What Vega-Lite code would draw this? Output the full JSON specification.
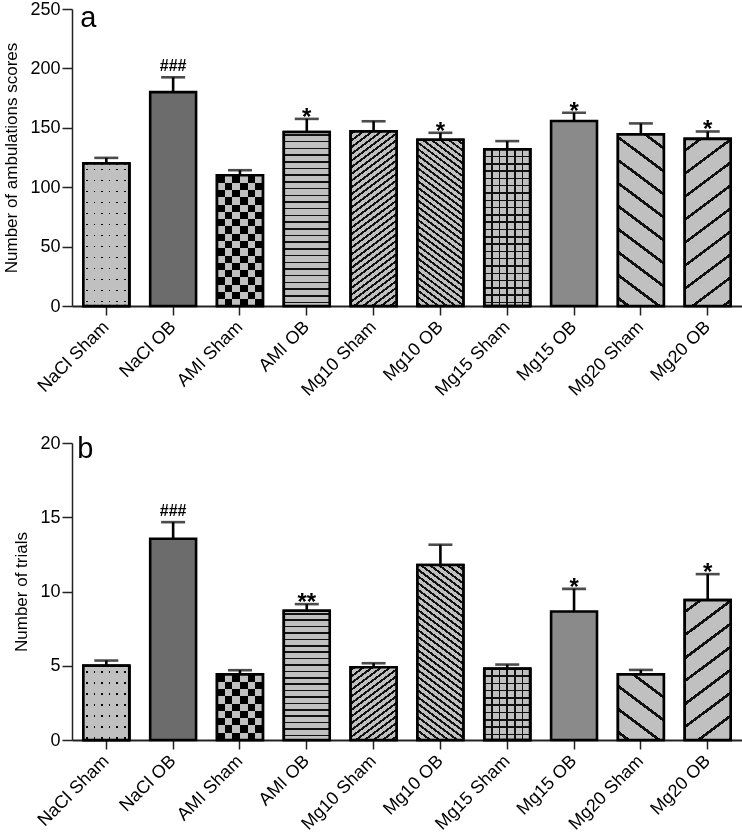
{
  "$schema": "https://vega.github.io/schema/vega-lite/v6.json",
  "background": "white",
  "padding": {"top": 0, "left": 2, "right": 0, "bottom": 0},
  "spacing": 35,
  "datasets": {
    "a": [
      {"group": "NaCl Sham", "mean": 120, "upper": 124.7, "sig": ""},
      {"group": "NaCl OB", "mean": 180, "upper": 192.5, "sig": "###"},
      {"group": "AMI Sham", "mean": 110, "upper": 114.3, "sig": ""},
      {"group": "AMI OB", "mean": 146.5, "upper": 157.5, "sig": "*"},
      {"group": "Mg10 Sham", "mean": 147, "upper": 155.5, "sig": ""},
      {"group": "Mg10 OB", "mean": 140, "upper": 145.8, "sig": "*"},
      {"group": "Mg15 Sham", "mean": 132, "upper": 138.8, "sig": ""},
      {"group": "Mg15 OB", "mean": 155.7, "upper": 162.7, "sig": "*"},
      {"group": "Mg20 Sham", "mean": 144.5, "upper": 153.7, "sig": ""},
      {"group": "Mg20 OB", "mean": 140.7, "upper": 146.9, "sig": "*"}
    ],
    "b": [
      {"group": "NaCl Sham", "mean": 5.0, "upper": 5.35, "sig": ""},
      {"group": "NaCl OB", "mean": 13.55, "upper": 14.67, "sig": "###"},
      {"group": "AMI Sham", "mean": 4.42, "upper": 4.7, "sig": ""},
      {"group": "AMI OB", "mean": 8.7, "upper": 9.15, "sig": "**"},
      {"group": "Mg10 Sham", "mean": 4.9, "upper": 5.17, "sig": ""},
      {"group": "Mg10 OB", "mean": 11.78, "upper": 13.15, "sig": ""},
      {"group": "Mg15 Sham", "mean": 4.8, "upper": 5.08, "sig": ""},
      {"group": "Mg15 OB", "mean": 8.65, "upper": 10.18, "sig": "*"},
      {"group": "Mg20 Sham", "mean": 4.42, "upper": 4.72, "sig": ""},
      {"group": "Mg20 OB", "mean": 9.42, "upper": 11.17, "sig": "*"}
    ],
    "labA": [{"panel": "a"}],
    "labB": [{"panel": "b"}]
  },
  "vconcat": [
    {
      "width": 670,
      "height": 297,
      "data": {"name": "a"},
      "encoding": {
        "x": {
          "field": "group", "type": "nominal", "sort": null, "title": null,
          "scale": {"paddingInner": 0.313, "paddingOuter": 0.17}
        }
      },
      "layer": [
        {
          "mark": {"type": "bar", "stroke": "black", "strokeWidth": 2.6},
          "encoding": {
            "y": {
              "field": "mean", "type": "quantitative",
              "title": "Number of ambulations scores",
              "scale": {"domain": [0, 250], "nice": false},
              "axis": {"values": [0, 50, 100, 150, 200, 250], "titlePadding": 9}
            },
            "fill": {"field": "group", "type": "nominal", "sort": null, "legend": null,
              "scale": {"range": ["#b2b2b2", "#6c6c6c", "#606060", "#909090", "#868686", "#7e7e7e", "#8c8c8c", "#8a8a8a", "#a0a0a0", "#a0a0a0"]}}
          }
        },
        {
          "transform": [{"filter": "datum.group == 'NaCl Sham'"}],
          "mark": {"type": "bar", "stroke": "black", "strokeWidth": 2.6,
            "fill": {"gradient": "linear", "x1": 0, "y1": 0, "x2": 0, "y2": 1, "stops": [
              {"offset": 0, "color": "#c0c0c0"},
              {"offset": 0.0365, "color": "#c0c0c0"}, {"offset": 0.0365, "color": "#000"}, {"offset": 0.0477, "color": "#000"}, {"offset": 0.0477, "color": "#c0c0c0"},
              {"offset": 0.1136, "color": "#c0c0c0"}, {"offset": 0.1136, "color": "#000"}, {"offset": 0.1248, "color": "#000"}, {"offset": 0.1248, "color": "#c0c0c0"},
              {"offset": 0.1908, "color": "#c0c0c0"}, {"offset": 0.1908, "color": "#000"}, {"offset": 0.2020, "color": "#000"}, {"offset": 0.2020, "color": "#c0c0c0"},
              {"offset": 0.2679, "color": "#c0c0c0"}, {"offset": 0.2679, "color": "#000"}, {"offset": 0.2791, "color": "#000"}, {"offset": 0.2791, "color": "#c0c0c0"},
              {"offset": 0.3450, "color": "#c0c0c0"}, {"offset": 0.3450, "color": "#000"}, {"offset": 0.3562, "color": "#000"}, {"offset": 0.3562, "color": "#c0c0c0"},
              {"offset": 0.4222, "color": "#c0c0c0"}, {"offset": 0.4222, "color": "#000"}, {"offset": 0.4334, "color": "#000"}, {"offset": 0.4334, "color": "#c0c0c0"},
              {"offset": 0.4993, "color": "#c0c0c0"}, {"offset": 0.4993, "color": "#000"}, {"offset": 0.5105, "color": "#000"}, {"offset": 0.5105, "color": "#c0c0c0"},
              {"offset": 0.5764, "color": "#c0c0c0"}, {"offset": 0.5764, "color": "#000"}, {"offset": 0.5876, "color": "#000"}, {"offset": 0.5876, "color": "#c0c0c0"},
              {"offset": 0.6536, "color": "#c0c0c0"}, {"offset": 0.6536, "color": "#000"}, {"offset": 0.6648, "color": "#000"}, {"offset": 0.6648, "color": "#c0c0c0"},
              {"offset": 0.7307, "color": "#c0c0c0"}, {"offset": 0.7307, "color": "#000"}, {"offset": 0.7419, "color": "#000"}, {"offset": 0.7419, "color": "#c0c0c0"},
              {"offset": 0.8079, "color": "#c0c0c0"}, {"offset": 0.8079, "color": "#000"}, {"offset": 0.8191, "color": "#000"}, {"offset": 0.8191, "color": "#c0c0c0"},
              {"offset": 0.8850, "color": "#c0c0c0"}, {"offset": 0.8850, "color": "#000"}, {"offset": 0.8962, "color": "#000"}, {"offset": 0.8962, "color": "#c0c0c0"},
              {"offset": 0.9621, "color": "#c0c0c0"}, {"offset": 0.9621, "color": "#000"}, {"offset": 0.9733, "color": "#000"}, {"offset": 0.9733, "color": "#c0c0c0"},
              {"offset": 1, "color": "#c0c0c0"}
            ]}},
          "encoding": {"y": {"field": "mean", "type": "quantitative", "title": "Number of ambulations scores"}}
        },
        {
          "transform": [{"filter": "datum.group == 'NaCl Sham'"}],
          "mark": {"type": "bar", "stroke": "black", "strokeWidth": 2.6,
            "fill": {"gradient": "linear", "x1": 0, "y1": 0, "x2": 1, "y2": 0, "stops": [
              {"offset": 0, "color": "#c0c0c0"},
              {"offset": 0.0566, "color": "#c0c0c0"}, {"offset": 0.0566, "color": "rgba(192,192,192,0)"}, {"offset": 0.0914, "color": "rgba(192,192,192,0)"}, {"offset": 0.0914, "color": "#c0c0c0"},
              {"offset": 0.2226, "color": "#c0c0c0"}, {"offset": 0.2226, "color": "rgba(192,192,192,0)"}, {"offset": 0.2574, "color": "rgba(192,192,192,0)"}, {"offset": 0.2574, "color": "#c0c0c0"},
              {"offset": 0.3876, "color": "#c0c0c0"}, {"offset": 0.3876, "color": "rgba(192,192,192,0)"}, {"offset": 0.4224, "color": "rgba(192,192,192,0)"}, {"offset": 0.4224, "color": "#c0c0c0"},
              {"offset": 0.5536, "color": "#c0c0c0"}, {"offset": 0.5536, "color": "rgba(192,192,192,0)"}, {"offset": 0.5884, "color": "rgba(192,192,192,0)"}, {"offset": 0.5884, "color": "#c0c0c0"},
              {"offset": 0.7186, "color": "#c0c0c0"}, {"offset": 0.7186, "color": "rgba(192,192,192,0)"}, {"offset": 0.7534, "color": "rgba(192,192,192,0)"}, {"offset": 0.7534, "color": "#c0c0c0"},
              {"offset": 0.8846, "color": "#c0c0c0"}, {"offset": 0.8846, "color": "rgba(192,192,192,0)"}, {"offset": 0.9194, "color": "rgba(192,192,192,0)"}, {"offset": 0.9194, "color": "#c0c0c0"},
              {"offset": 1, "color": "#c0c0c0"}
            ]}},
          "encoding": {"y": {"field": "mean", "type": "quantitative", "title": "Number of ambulations scores"}}
        },
        {
          "transform": [{"filter": "datum.group == 'AMI Sham'"}],
          "mark": {"type": "bar", "strokeWidth": 0,
            "fill": {"gradient": "linear", "x1": 0, "y1": 0, "x2": 0, "y2": 1, "stops": [
              {"offset": 0, "color": "#000"},
              {"offset": 0.0559, "color": "#000"}, {"offset": 0.0559, "color": "#c0c0c0"},
              {"offset": 0.1117, "color": "#c0c0c0"}, {"offset": 0.1117, "color": "#000"},
              {"offset": 0.1676, "color": "#000"}, {"offset": 0.1676, "color": "#c0c0c0"},
              {"offset": 0.2234, "color": "#c0c0c0"}, {"offset": 0.2234, "color": "#000"},
              {"offset": 0.2793, "color": "#000"}, {"offset": 0.2793, "color": "#c0c0c0"},
              {"offset": 0.3351, "color": "#c0c0c0"}, {"offset": 0.3351, "color": "#000"},
              {"offset": 0.3910, "color": "#000"}, {"offset": 0.3910, "color": "#c0c0c0"},
              {"offset": 0.4468, "color": "#c0c0c0"}, {"offset": 0.4468, "color": "#000"},
              {"offset": 0.5027, "color": "#000"}, {"offset": 0.5027, "color": "#c0c0c0"},
              {"offset": 0.5585, "color": "#c0c0c0"}, {"offset": 0.5585, "color": "#000"},
              {"offset": 0.6144, "color": "#000"}, {"offset": 0.6144, "color": "#c0c0c0"},
              {"offset": 0.6702, "color": "#c0c0c0"}, {"offset": 0.6702, "color": "#000"},
              {"offset": 0.7261, "color": "#000"}, {"offset": 0.7261, "color": "#c0c0c0"},
              {"offset": 0.7819, "color": "#c0c0c0"}, {"offset": 0.7819, "color": "#000"},
              {"offset": 0.8378, "color": "#000"}, {"offset": 0.8378, "color": "#c0c0c0"},
              {"offset": 0.8936, "color": "#c0c0c0"}, {"offset": 0.8936, "color": "#000"},
              {"offset": 0.9495, "color": "#000"}, {"offset": 0.9495, "color": "#c0c0c0"},
              {"offset": 1, "color": "#c0c0c0"}
            ]}},
          "encoding": {"y": {"field": "mean", "type": "quantitative", "title": "Number of ambulations scores"}}
        },
        {
          "transform": [{"filter": "datum.group == 'AMI Sham'"}],
          "mark": {"type": "bar", "strokeWidth": 0, "blend": "difference",
            "fill": {"gradient": "linear", "x1": 0, "y1": 0, "x2": 1, "y2": 0, "stops": [
              {"offset": 0, "color": "#000"},
              {"offset": 0.1667, "color": "#000"}, {"offset": 0.1667, "color": "#c0c0c0"},
              {"offset": 0.3333, "color": "#c0c0c0"}, {"offset": 0.3333, "color": "#000"},
              {"offset": 0.5, "color": "#000"}, {"offset": 0.5, "color": "#c0c0c0"},
              {"offset": 0.6667, "color": "#c0c0c0"}, {"offset": 0.6667, "color": "#000"},
              {"offset": 0.8333, "color": "#000"}, {"offset": 0.8333, "color": "#c0c0c0"},
              {"offset": 1, "color": "#c0c0c0"}
            ]}},
          "encoding": {"y": {"field": "mean", "type": "quantitative", "title": "Number of ambulations scores"}}
        },
        {
          "transform": [{"filter": "datum.group == 'AMI Sham'"}],
          "mark": {"type": "bar", "stroke": "black", "strokeWidth": 2.6, "fillOpacity": 0},
          "encoding": {"y": {"field": "mean", "type": "quantitative", "title": "Number of ambulations scores"}}
        },
        {
          "transform": [{"filter": "datum.group == 'AMI OB'"}],
          "mark": {"type": "bar", "stroke": "black", "strokeWidth": 2.6,
            "fill": {"gradient": "linear", "x1": 0, "y1": 0, "x2": 0, "y2": 1, "stops": [
              {"offset": 0, "color": "#c0c0c0"},
              {"offset": 0.0129, "color": "#c0c0c0"}, {"offset": 0.0129, "color": "#111"}, {"offset": 0.0215, "color": "#111"}, {"offset": 0.0215, "color": "#c0c0c0"},
              {"offset": 0.0515, "color": "#c0c0c0"}, {"offset": 0.0515, "color": "#111"}, {"offset": 0.0601, "color": "#111"}, {"offset": 0.0601, "color": "#c0c0c0"},
              {"offset": 0.0900, "color": "#c0c0c0"}, {"offset": 0.0900, "color": "#111"}, {"offset": 0.0986, "color": "#111"}, {"offset": 0.0986, "color": "#c0c0c0"},
              {"offset": 0.1285, "color": "#c0c0c0"}, {"offset": 0.1285, "color": "#111"}, {"offset": 0.1371, "color": "#111"}, {"offset": 0.1371, "color": "#c0c0c0"},
              {"offset": 0.1670, "color": "#c0c0c0"}, {"offset": 0.1670, "color": "#111"}, {"offset": 0.1756, "color": "#111"}, {"offset": 0.1756, "color": "#c0c0c0"},
              {"offset": 0.2055, "color": "#c0c0c0"}, {"offset": 0.2055, "color": "#111"}, {"offset": 0.2141, "color": "#111"}, {"offset": 0.2141, "color": "#c0c0c0"},
              {"offset": 0.2440, "color": "#c0c0c0"}, {"offset": 0.2440, "color": "#111"}, {"offset": 0.2526, "color": "#111"}, {"offset": 0.2526, "color": "#c0c0c0"},
              {"offset": 0.2825, "color": "#c0c0c0"}, {"offset": 0.2825, "color": "#111"}, {"offset": 0.2911, "color": "#111"}, {"offset": 0.2911, "color": "#c0c0c0"},
              {"offset": 0.3210, "color": "#c0c0c0"}, {"offset": 0.3210, "color": "#111"}, {"offset": 0.3296, "color": "#111"}, {"offset": 0.3296, "color": "#c0c0c0"},
              {"offset": 0.3595, "color": "#c0c0c0"}, {"offset": 0.3595, "color": "#111"}, {"offset": 0.3681, "color": "#111"}, {"offset": 0.3681, "color": "#c0c0c0"},
              {"offset": 0.3980, "color": "#c0c0c0"}, {"offset": 0.3980, "color": "#111"}, {"offset": 0.4066, "color": "#111"}, {"offset": 0.4066, "color": "#c0c0c0"},
              {"offset": 0.4365, "color": "#c0c0c0"}, {"offset": 0.4365, "color": "#111"}, {"offset": 0.4451, "color": "#111"}, {"offset": 0.4451, "color": "#c0c0c0"},
              {"offset": 0.4750, "color": "#c0c0c0"}, {"offset": 0.4750, "color": "#111"}, {"offset": 0.4836, "color": "#111"}, {"offset": 0.4836, "color": "#c0c0c0"},
              {"offset": 0.5135, "color": "#c0c0c0"}, {"offset": 0.5135, "color": "#111"}, {"offset": 0.5221, "color": "#111"}, {"offset": 0.5221, "color": "#c0c0c0"},
              {"offset": 0.5520, "color": "#c0c0c0"}, {"offset": 0.5520, "color": "#111"}, {"offset": 0.5606, "color": "#111"}, {"offset": 0.5606, "color": "#c0c0c0"},
              {"offset": 0.5905, "color": "#c0c0c0"}, {"offset": 0.5905, "color": "#111"}, {"offset": 0.5991, "color": "#111"}, {"offset": 0.5991, "color": "#c0c0c0"},
              {"offset": 0.6290, "color": "#c0c0c0"}, {"offset": 0.6290, "color": "#111"}, {"offset": 0.6376, "color": "#111"}, {"offset": 0.6376, "color": "#c0c0c0"},
              {"offset": 0.6675, "color": "#c0c0c0"}, {"offset": 0.6675, "color": "#111"}, {"offset": 0.6761, "color": "#111"}, {"offset": 0.6761, "color": "#c0c0c0"},
              {"offset": 0.7061, "color": "#c0c0c0"}, {"offset": 0.7061, "color": "#111"}, {"offset": 0.7147, "color": "#111"}, {"offset": 0.7147, "color": "#c0c0c0"},
              {"offset": 0.7446, "color": "#c0c0c0"}, {"offset": 0.7446, "color": "#111"}, {"offset": 0.7532, "color": "#111"}, {"offset": 0.7532, "color": "#c0c0c0"},
              {"offset": 0.7831, "color": "#c0c0c0"}, {"offset": 0.7831, "color": "#111"}, {"offset": 0.7917, "color": "#111"}, {"offset": 0.7917, "color": "#c0c0c0"},
              {"offset": 0.8216, "color": "#c0c0c0"}, {"offset": 0.8216, "color": "#111"}, {"offset": 0.8302, "color": "#111"}, {"offset": 0.8302, "color": "#c0c0c0"},
              {"offset": 0.8601, "color": "#c0c0c0"}, {"offset": 0.8601, "color": "#111"}, {"offset": 0.8687, "color": "#111"}, {"offset": 0.8687, "color": "#c0c0c0"},
              {"offset": 0.8986, "color": "#c0c0c0"}, {"offset": 0.8986, "color": "#111"}, {"offset": 0.9072, "color": "#111"}, {"offset": 0.9072, "color": "#c0c0c0"},
              {"offset": 0.9371, "color": "#c0c0c0"}, {"offset": 0.9371, "color": "#111"}, {"offset": 0.9457, "color": "#111"}, {"offset": 0.9457, "color": "#c0c0c0"},
              {"offset": 0.9756, "color": "#c0c0c0"}, {"offset": 0.9756, "color": "#111"}, {"offset": 0.9842, "color": "#111"}, {"offset": 0.9842, "color": "#c0c0c0"},
              {"offset": 1, "color": "#c0c0c0"}
            ]}},
          "encoding": {"y": {"field": "mean", "type": "quantitative", "title": "Number of ambulations scores"}}
        },
        {
          "transform": [{"filter": "datum.group == 'Mg10 Sham'"}],
          "mark": {"type": "bar", "stroke": "black", "strokeWidth": 2.6,
            "fill": {"gradient": "linear", "x1": 0, "y1": 0, "x2": 0.227, "y2": 1.1523, "stops": [
              {"offset": 0, "color": "#c0c0c0"},
              {"offset": 0.0084, "color": "#c0c0c0"}, {"offset": 0.0084, "color": "#111"}, {"offset": 0.0204, "color": "#111"}, {"offset": 0.0204, "color": "#c0c0c0"},
              {"offset": 0.0404, "color": "#c0c0c0"}, {"offset": 0.0404, "color": "#111"}, {"offset": 0.0524, "color": "#111"}, {"offset": 0.0524, "color": "#c0c0c0"},
              {"offset": 0.0725, "color": "#c0c0c0"}, {"offset": 0.0725, "color": "#111"}, {"offset": 0.0845, "color": "#111"}, {"offset": 0.0845, "color": "#c0c0c0"},
              {"offset": 0.1045, "color": "#c0c0c0"}, {"offset": 0.1045, "color": "#111"}, {"offset": 0.1165, "color": "#111"}, {"offset": 0.1165, "color": "#c0c0c0"},
              {"offset": 0.1366, "color": "#c0c0c0"}, {"offset": 0.1366, "color": "#111"}, {"offset": 0.1486, "color": "#111"}, {"offset": 0.1486, "color": "#c0c0c0"},
              {"offset": 0.1686, "color": "#c0c0c0"}, {"offset": 0.1686, "color": "#111"}, {"offset": 0.1806, "color": "#111"}, {"offset": 0.1806, "color": "#c0c0c0"},
              {"offset": 0.2007, "color": "#c0c0c0"}, {"offset": 0.2007, "color": "#111"}, {"offset": 0.2127, "color": "#111"}, {"offset": 0.2127, "color": "#c0c0c0"},
              {"offset": 0.2328, "color": "#c0c0c0"}, {"offset": 0.2328, "color": "#111"}, {"offset": 0.2448, "color": "#111"}, {"offset": 0.2448, "color": "#c0c0c0"},
              {"offset": 0.2648, "color": "#c0c0c0"}, {"offset": 0.2648, "color": "#111"}, {"offset": 0.2768, "color": "#111"}, {"offset": 0.2768, "color": "#c0c0c0"},
              {"offset": 0.2969, "color": "#c0c0c0"}, {"offset": 0.2969, "color": "#111"}, {"offset": 0.3089, "color": "#111"}, {"offset": 0.3089, "color": "#c0c0c0"},
              {"offset": 0.3289, "color": "#c0c0c0"}, {"offset": 0.3289, "color": "#111"}, {"offset": 0.3409, "color": "#111"}, {"offset": 0.3409, "color": "#c0c0c0"},
              {"offset": 0.3610, "color": "#c0c0c0"}, {"offset": 0.3610, "color": "#111"}, {"offset": 0.3730, "color": "#111"}, {"offset": 0.3730, "color": "#c0c0c0"},
              {"offset": 0.3930, "color": "#c0c0c0"}, {"offset": 0.3930, "color": "#111"}, {"offset": 0.4050, "color": "#111"}, {"offset": 0.4050, "color": "#c0c0c0"},
              {"offset": 0.4251, "color": "#c0c0c0"}, {"offset": 0.4251, "color": "#111"}, {"offset": 0.4371, "color": "#111"}, {"offset": 0.4371, "color": "#c0c0c0"},
              {"offset": 0.4572, "color": "#c0c0c0"}, {"offset": 0.4572, "color": "#111"}, {"offset": 0.4692, "color": "#111"}, {"offset": 0.4692, "color": "#c0c0c0"},
              {"offset": 0.4892, "color": "#c0c0c0"}, {"offset": 0.4892, "color": "#111"}, {"offset": 0.5012, "color": "#111"}, {"offset": 0.5012, "color": "#c0c0c0"},
              {"offset": 0.5213, "color": "#c0c0c0"}, {"offset": 0.5213, "color": "#111"}, {"offset": 0.5333, "color": "#111"}, {"offset": 0.5333, "color": "#c0c0c0"},
              {"offset": 0.5533, "color": "#c0c0c0"}, {"offset": 0.5533, "color": "#111"}, {"offset": 0.5653, "color": "#111"}, {"offset": 0.5653, "color": "#c0c0c0"},
              {"offset": 0.5854, "color": "#c0c0c0"}, {"offset": 0.5854, "color": "#111"}, {"offset": 0.5974, "color": "#111"}, {"offset": 0.5974, "color": "#c0c0c0"},
              {"offset": 0.6174, "color": "#c0c0c0"}, {"offset": 0.6174, "color": "#111"}, {"offset": 0.6294, "color": "#111"}, {"offset": 0.6294, "color": "#c0c0c0"},
              {"offset": 0.6495, "color": "#c0c0c0"}, {"offset": 0.6495, "color": "#111"}, {"offset": 0.6615, "color": "#111"}, {"offset": 0.6615, "color": "#c0c0c0"},
              {"offset": 0.6816, "color": "#c0c0c0"}, {"offset": 0.6816, "color": "#111"}, {"offset": 0.6936, "color": "#111"}, {"offset": 0.6936, "color": "#c0c0c0"},
              {"offset": 0.7136, "color": "#c0c0c0"}, {"offset": 0.7136, "color": "#111"}, {"offset": 0.7256, "color": "#111"}, {"offset": 0.7256, "color": "#c0c0c0"},
              {"offset": 0.7457, "color": "#c0c0c0"}, {"offset": 0.7457, "color": "#111"}, {"offset": 0.7577, "color": "#111"}, {"offset": 0.7577, "color": "#c0c0c0"},
              {"offset": 0.7777, "color": "#c0c0c0"}, {"offset": 0.7777, "color": "#111"}, {"offset": 0.7897, "color": "#111"}, {"offset": 0.7897, "color": "#c0c0c0"},
              {"offset": 0.8098, "color": "#c0c0c0"}, {"offset": 0.8098, "color": "#111"}, {"offset": 0.8218, "color": "#111"}, {"offset": 0.8218, "color": "#c0c0c0"},
              {"offset": 0.8418, "color": "#c0c0c0"}, {"offset": 0.8418, "color": "#111"}, {"offset": 0.8538, "color": "#111"}, {"offset": 0.8538, "color": "#c0c0c0"},
              {"offset": 0.8739, "color": "#c0c0c0"}, {"offset": 0.8739, "color": "#111"}, {"offset": 0.8859, "color": "#111"}, {"offset": 0.8859, "color": "#c0c0c0"},
              {"offset": 0.9059, "color": "#c0c0c0"}, {"offset": 0.9059, "color": "#111"}, {"offset": 0.9179, "color": "#111"}, {"offset": 0.9179, "color": "#c0c0c0"},
              {"offset": 0.9380, "color": "#c0c0c0"}, {"offset": 0.9380, "color": "#111"}, {"offset": 0.9500, "color": "#111"}, {"offset": 0.9500, "color": "#c0c0c0"},
              {"offset": 0.9701, "color": "#c0c0c0"}, {"offset": 0.9701, "color": "#111"}, {"offset": 0.9821, "color": "#111"}, {"offset": 0.9821, "color": "#c0c0c0"},
              {"offset": 1, "color": "#c0c0c0"}
            ]}},
          "encoding": {"y": {"field": "mean", "type": "quantitative", "title": "Number of ambulations scores"}}
        },
        {
          "transform": [{"filter": "datum.group == 'Mg10 OB'"}],
          "mark": {"type": "bar", "stroke": "black", "strokeWidth": 2.6,
            "fill": {"gradient": "linear", "x1": 0, "y1": 1, "x2": 0.2394, "y2": -0.1573, "stops": [
              {"offset": 0, "color": "#c0c0c0"},
              {"offset": 0.0084, "color": "#c0c0c0"}, {"offset": 0.0084, "color": "#111"}, {"offset": 0.0204, "color": "#111"}, {"offset": 0.0204, "color": "#c0c0c0"},
              {"offset": 0.0404, "color": "#c0c0c0"}, {"offset": 0.0404, "color": "#111"}, {"offset": 0.0524, "color": "#111"}, {"offset": 0.0524, "color": "#c0c0c0"},
              {"offset": 0.0725, "color": "#c0c0c0"}, {"offset": 0.0725, "color": "#111"}, {"offset": 0.0845, "color": "#111"}, {"offset": 0.0845, "color": "#c0c0c0"},
              {"offset": 0.1045, "color": "#c0c0c0"}, {"offset": 0.1045, "color": "#111"}, {"offset": 0.1165, "color": "#111"}, {"offset": 0.1165, "color": "#c0c0c0"},
              {"offset": 0.1366, "color": "#c0c0c0"}, {"offset": 0.1366, "color": "#111"}, {"offset": 0.1486, "color": "#111"}, {"offset": 0.1486, "color": "#c0c0c0"},
              {"offset": 0.1686, "color": "#c0c0c0"}, {"offset": 0.1686, "color": "#111"}, {"offset": 0.1806, "color": "#111"}, {"offset": 0.1806, "color": "#c0c0c0"},
              {"offset": 0.2007, "color": "#c0c0c0"}, {"offset": 0.2007, "color": "#111"}, {"offset": 0.2127, "color": "#111"}, {"offset": 0.2127, "color": "#c0c0c0"},
              {"offset": 0.2328, "color": "#c0c0c0"}, {"offset": 0.2328, "color": "#111"}, {"offset": 0.2448, "color": "#111"}, {"offset": 0.2448, "color": "#c0c0c0"},
              {"offset": 0.2648, "color": "#c0c0c0"}, {"offset": 0.2648, "color": "#111"}, {"offset": 0.2768, "color": "#111"}, {"offset": 0.2768, "color": "#c0c0c0"},
              {"offset": 0.2969, "color": "#c0c0c0"}, {"offset": 0.2969, "color": "#111"}, {"offset": 0.3089, "color": "#111"}, {"offset": 0.3089, "color": "#c0c0c0"},
              {"offset": 0.3289, "color": "#c0c0c0"}, {"offset": 0.3289, "color": "#111"}, {"offset": 0.3409, "color": "#111"}, {"offset": 0.3409, "color": "#c0c0c0"},
              {"offset": 0.3610, "color": "#c0c0c0"}, {"offset": 0.3610, "color": "#111"}, {"offset": 0.3730, "color": "#111"}, {"offset": 0.3730, "color": "#c0c0c0"},
              {"offset": 0.3930, "color": "#c0c0c0"}, {"offset": 0.3930, "color": "#111"}, {"offset": 0.4050, "color": "#111"}, {"offset": 0.4050, "color": "#c0c0c0"},
              {"offset": 0.4251, "color": "#c0c0c0"}, {"offset": 0.4251, "color": "#111"}, {"offset": 0.4371, "color": "#111"}, {"offset": 0.4371, "color": "#c0c0c0"},
              {"offset": 0.4572, "color": "#c0c0c0"}, {"offset": 0.4572, "color": "#111"}, {"offset": 0.4692, "color": "#111"}, {"offset": 0.4692, "color": "#c0c0c0"},
              {"offset": 0.4892, "color": "#c0c0c0"}, {"offset": 0.4892, "color": "#111"}, {"offset": 0.5012, "color": "#111"}, {"offset": 0.5012, "color": "#c0c0c0"},
              {"offset": 0.5213, "color": "#c0c0c0"}, {"offset": 0.5213, "color": "#111"}, {"offset": 0.5333, "color": "#111"}, {"offset": 0.5333, "color": "#c0c0c0"},
              {"offset": 0.5533, "color": "#c0c0c0"}, {"offset": 0.5533, "color": "#111"}, {"offset": 0.5653, "color": "#111"}, {"offset": 0.5653, "color": "#c0c0c0"},
              {"offset": 0.5854, "color": "#c0c0c0"}, {"offset": 0.5854, "color": "#111"}, {"offset": 0.5974, "color": "#111"}, {"offset": 0.5974, "color": "#c0c0c0"},
              {"offset": 0.6174, "color": "#c0c0c0"}, {"offset": 0.6174, "color": "#111"}, {"offset": 0.6294, "color": "#111"}, {"offset": 0.6294, "color": "#c0c0c0"},
              {"offset": 0.6495, "color": "#c0c0c0"}, {"offset": 0.6495, "color": "#111"}, {"offset": 0.6615, "color": "#111"}, {"offset": 0.6615, "color": "#c0c0c0"},
              {"offset": 0.6816, "color": "#c0c0c0"}, {"offset": 0.6816, "color": "#111"}, {"offset": 0.6936, "color": "#111"}, {"offset": 0.6936, "color": "#c0c0c0"},
              {"offset": 0.7136, "color": "#c0c0c0"}, {"offset": 0.7136, "color": "#111"}, {"offset": 0.7256, "color": "#111"}, {"offset": 0.7256, "color": "#c0c0c0"},
              {"offset": 0.7457, "color": "#c0c0c0"}, {"offset": 0.7457, "color": "#111"}, {"offset": 0.7577, "color": "#111"}, {"offset": 0.7577, "color": "#c0c0c0"},
              {"offset": 0.7777, "color": "#c0c0c0"}, {"offset": 0.7777, "color": "#111"}, {"offset": 0.7897, "color": "#111"}, {"offset": 0.7897, "color": "#c0c0c0"},
              {"offset": 0.8098, "color": "#c0c0c0"}, {"offset": 0.8098, "color": "#111"}, {"offset": 0.8218, "color": "#111"}, {"offset": 0.8218, "color": "#c0c0c0"},
              {"offset": 0.8418, "color": "#c0c0c0"}, {"offset": 0.8418, "color": "#111"}, {"offset": 0.8538, "color": "#111"}, {"offset": 0.8538, "color": "#c0c0c0"},
              {"offset": 0.8739, "color": "#c0c0c0"}, {"offset": 0.8739, "color": "#111"}, {"offset": 0.8859, "color": "#111"}, {"offset": 0.8859, "color": "#c0c0c0"},
              {"offset": 0.9059, "color": "#c0c0c0"}, {"offset": 0.9059, "color": "#111"}, {"offset": 0.9179, "color": "#111"}, {"offset": 0.9179, "color": "#c0c0c0"},
              {"offset": 0.9380, "color": "#c0c0c0"}, {"offset": 0.9380, "color": "#111"}, {"offset": 0.9500, "color": "#111"}, {"offset": 0.9500, "color": "#c0c0c0"},
              {"offset": 0.9701, "color": "#c0c0c0"}, {"offset": 0.9701, "color": "#111"}, {"offset": 0.9821, "color": "#111"}, {"offset": 0.9821, "color": "#c0c0c0"},
              {"offset": 1, "color": "#c0c0c0"}
            ]}},
          "encoding": {"y": {"field": "mean", "type": "quantitative", "title": "Number of ambulations scores"}}
        },
        {
          "transform": [{"filter": "datum.group == 'Mg15 Sham'"}],
          "mark": {"type": "bar", "stroke": "black", "strokeWidth": 2.6,
            "fill": {"gradient": "linear", "x1": 0, "y1": 0, "x2": 0, "y2": 1, "stops": [
              {"offset": 0, "color": "#c0c0c0"},
              {"offset": 0.0418, "color": "#c0c0c0"}, {"offset": 0.0418, "color": "#111"}, {"offset": 0.0514, "color": "#111"}, {"offset": 0.0514, "color": "#c0c0c0"},
              {"offset": 0.0883, "color": "#c0c0c0"}, {"offset": 0.0883, "color": "#111"}, {"offset": 0.0979, "color": "#111"}, {"offset": 0.0979, "color": "#c0c0c0"},
              {"offset": 0.1349, "color": "#c0c0c0"}, {"offset": 0.1349, "color": "#111"}, {"offset": 0.1445, "color": "#111"}, {"offset": 0.1445, "color": "#c0c0c0"},
              {"offset": 0.1814, "color": "#c0c0c0"}, {"offset": 0.1814, "color": "#111"}, {"offset": 0.1910, "color": "#111"}, {"offset": 0.1910, "color": "#c0c0c0"},
              {"offset": 0.2280, "color": "#c0c0c0"}, {"offset": 0.2280, "color": "#111"}, {"offset": 0.2376, "color": "#111"}, {"offset": 0.2376, "color": "#c0c0c0"},
              {"offset": 0.2745, "color": "#c0c0c0"}, {"offset": 0.2745, "color": "#111"}, {"offset": 0.2841, "color": "#111"}, {"offset": 0.2841, "color": "#c0c0c0"},
              {"offset": 0.3211, "color": "#c0c0c0"}, {"offset": 0.3211, "color": "#111"}, {"offset": 0.3307, "color": "#111"}, {"offset": 0.3307, "color": "#c0c0c0"},
              {"offset": 0.3676, "color": "#c0c0c0"}, {"offset": 0.3676, "color": "#111"}, {"offset": 0.3772, "color": "#111"}, {"offset": 0.3772, "color": "#c0c0c0"},
              {"offset": 0.4142, "color": "#c0c0c0"}, {"offset": 0.4142, "color": "#111"}, {"offset": 0.4238, "color": "#111"}, {"offset": 0.4238, "color": "#c0c0c0"},
              {"offset": 0.4608, "color": "#c0c0c0"}, {"offset": 0.4608, "color": "#111"}, {"offset": 0.4704, "color": "#111"}, {"offset": 0.4704, "color": "#c0c0c0"},
              {"offset": 0.5073, "color": "#c0c0c0"}, {"offset": 0.5073, "color": "#111"}, {"offset": 0.5169, "color": "#111"}, {"offset": 0.5169, "color": "#c0c0c0"},
              {"offset": 0.5539, "color": "#c0c0c0"}, {"offset": 0.5539, "color": "#111"}, {"offset": 0.5635, "color": "#111"}, {"offset": 0.5635, "color": "#c0c0c0"},
              {"offset": 0.6004, "color": "#c0c0c0"}, {"offset": 0.6004, "color": "#111"}, {"offset": 0.6100, "color": "#111"}, {"offset": 0.6100, "color": "#c0c0c0"},
              {"offset": 0.6470, "color": "#c0c0c0"}, {"offset": 0.6470, "color": "#111"}, {"offset": 0.6566, "color": "#111"}, {"offset": 0.6566, "color": "#c0c0c0"},
              {"offset": 0.6935, "color": "#c0c0c0"}, {"offset": 0.6935, "color": "#111"}, {"offset": 0.7031, "color": "#111"}, {"offset": 0.7031, "color": "#c0c0c0"},
              {"offset": 0.7401, "color": "#c0c0c0"}, {"offset": 0.7401, "color": "#111"}, {"offset": 0.7497, "color": "#111"}, {"offset": 0.7497, "color": "#c0c0c0"},
              {"offset": 0.7867, "color": "#c0c0c0"}, {"offset": 0.7867, "color": "#111"}, {"offset": 0.7963, "color": "#111"}, {"offset": 0.7963, "color": "#c0c0c0"},
              {"offset": 0.8332, "color": "#c0c0c0"}, {"offset": 0.8332, "color": "#111"}, {"offset": 0.8428, "color": "#111"}, {"offset": 0.8428, "color": "#c0c0c0"},
              {"offset": 0.8798, "color": "#c0c0c0"}, {"offset": 0.8798, "color": "#111"}, {"offset": 0.8894, "color": "#111"}, {"offset": 0.8894, "color": "#c0c0c0"},
              {"offset": 0.9263, "color": "#c0c0c0"}, {"offset": 0.9263, "color": "#111"}, {"offset": 0.9359, "color": "#111"}, {"offset": 0.9359, "color": "#c0c0c0"},
              {"offset": 0.9729, "color": "#c0c0c0"}, {"offset": 0.9729, "color": "#111"}, {"offset": 0.9825, "color": "#111"}, {"offset": 0.9825, "color": "#c0c0c0"},
              {"offset": 1, "color": "#c0c0c0"}
            ]}},
          "encoding": {"y": {"field": "mean", "type": "quantitative", "title": "Number of ambulations scores"}}
        },
        {
          "transform": [{"filter": "datum.group == 'Mg15 Sham'"}],
          "mark": {"type": "bar", "stroke": "black", "strokeWidth": 2.6,
            "fill": {"gradient": "linear", "x1": 0, "y1": 0, "x2": 1, "y2": 0, "stops": [
              {"offset": 0, "color": "rgba(0,0,0,0)"},
              {"offset": 0.1504, "color": "rgba(0,0,0,0)"}, {"offset": 0.1504, "color": "#111"}, {"offset": 0.1830, "color": "#111"}, {"offset": 0.1830, "color": "rgba(0,0,0,0)"},
              {"offset": 0.3170, "color": "rgba(0,0,0,0)"}, {"offset": 0.3170, "color": "#111"}, {"offset": 0.3496, "color": "#111"}, {"offset": 0.3496, "color": "rgba(0,0,0,0)"},
              {"offset": 0.4837, "color": "rgba(0,0,0,0)"}, {"offset": 0.4837, "color": "#111"}, {"offset": 0.5163, "color": "#111"}, {"offset": 0.5163, "color": "rgba(0,0,0,0)"},
              {"offset": 0.6504, "color": "rgba(0,0,0,0)"}, {"offset": 0.6504, "color": "#111"}, {"offset": 0.6830, "color": "#111"}, {"offset": 0.6830, "color": "rgba(0,0,0,0)"},
              {"offset": 0.8170, "color": "rgba(0,0,0,0)"}, {"offset": 0.8170, "color": "#111"}, {"offset": 0.8496, "color": "#111"}, {"offset": 0.8496, "color": "rgba(0,0,0,0)"},
              {"offset": 1, "color": "rgba(0,0,0,0)"}
            ]}},
          "encoding": {"y": {"field": "mean", "type": "quantitative", "title": "Number of ambulations scores"}}
        },
        {
          "transform": [{"filter": "datum.group == 'Mg20 Sham'"}],
          "mark": {"type": "bar", "stroke": "black", "strokeWidth": 2.6,
            "fill": {"gradient": "linear", "x1": 0, "y1": 1, "x2": 0.2312, "y2": -0.154, "stops": [
              {"offset": 0, "color": "#c0c0c0"},
              {"offset": 0.0306, "color": "#c0c0c0"}, {"offset": 0.0306, "color": "#111"}, {"offset": 0.0471, "color": "#111"}, {"offset": 0.0471, "color": "#c0c0c0"},
              {"offset": 0.1422, "color": "#c0c0c0"}, {"offset": 0.1422, "color": "#111"}, {"offset": 0.1587, "color": "#111"}, {"offset": 0.1587, "color": "#c0c0c0"},
              {"offset": 0.2538, "color": "#c0c0c0"}, {"offset": 0.2538, "color": "#111"}, {"offset": 0.2703, "color": "#111"}, {"offset": 0.2703, "color": "#c0c0c0"},
              {"offset": 0.3654, "color": "#c0c0c0"}, {"offset": 0.3654, "color": "#111"}, {"offset": 0.3819, "color": "#111"}, {"offset": 0.3819, "color": "#c0c0c0"},
              {"offset": 0.4770, "color": "#c0c0c0"}, {"offset": 0.4770, "color": "#111"}, {"offset": 0.4935, "color": "#111"}, {"offset": 0.4935, "color": "#c0c0c0"},
              {"offset": 0.5886, "color": "#c0c0c0"}, {"offset": 0.5886, "color": "#111"}, {"offset": 0.6051, "color": "#111"}, {"offset": 0.6051, "color": "#c0c0c0"},
              {"offset": 0.7002, "color": "#c0c0c0"}, {"offset": 0.7002, "color": "#111"}, {"offset": 0.7167, "color": "#111"}, {"offset": 0.7167, "color": "#c0c0c0"},
              {"offset": 0.8118, "color": "#c0c0c0"}, {"offset": 0.8118, "color": "#111"}, {"offset": 0.8283, "color": "#111"}, {"offset": 0.8283, "color": "#c0c0c0"},
              {"offset": 0.9234, "color": "#c0c0c0"}, {"offset": 0.9234, "color": "#111"}, {"offset": 0.9399, "color": "#111"}, {"offset": 0.9399, "color": "#c0c0c0"},
              {"offset": 1, "color": "#c0c0c0"}
            ]}},
          "encoding": {"y": {"field": "mean", "type": "quantitative", "title": "Number of ambulations scores"}}
        },
        {
          "transform": [{"filter": "datum.group == 'Mg20 OB'"}],
          "mark": {"type": "bar", "stroke": "black", "strokeWidth": 2.6,
            "fill": {"gradient": "linear", "x1": 0, "y1": 0, "x2": 0.2379, "y2": 1.1568, "stops": [
              {"offset": 0, "color": "#c0c0c0"},
              {"offset": 0.0511, "color": "#c0c0c0"}, {"offset": 0.0511, "color": "#111"}, {"offset": 0.0679, "color": "#111"}, {"offset": 0.0679, "color": "#c0c0c0"},
              {"offset": 0.1652, "color": "#c0c0c0"}, {"offset": 0.1652, "color": "#111"}, {"offset": 0.1820, "color": "#111"}, {"offset": 0.1820, "color": "#c0c0c0"},
              {"offset": 0.2793, "color": "#c0c0c0"}, {"offset": 0.2793, "color": "#111"}, {"offset": 0.2961, "color": "#111"}, {"offset": 0.2961, "color": "#c0c0c0"},
              {"offset": 0.3934, "color": "#c0c0c0"}, {"offset": 0.3934, "color": "#111"}, {"offset": 0.4102, "color": "#111"}, {"offset": 0.4102, "color": "#c0c0c0"},
              {"offset": 0.5075, "color": "#c0c0c0"}, {"offset": 0.5075, "color": "#111"}, {"offset": 0.5243, "color": "#111"}, {"offset": 0.5243, "color": "#c0c0c0"},
              {"offset": 0.6216, "color": "#c0c0c0"}, {"offset": 0.6216, "color": "#111"}, {"offset": 0.6384, "color": "#111"}, {"offset": 0.6384, "color": "#c0c0c0"},
              {"offset": 0.7356, "color": "#c0c0c0"}, {"offset": 0.7356, "color": "#111"}, {"offset": 0.7524, "color": "#111"}, {"offset": 0.7524, "color": "#c0c0c0"},
              {"offset": 0.8497, "color": "#c0c0c0"}, {"offset": 0.8497, "color": "#111"}, {"offset": 0.8665, "color": "#111"}, {"offset": 0.8665, "color": "#c0c0c0"},
              {"offset": 0.9638, "color": "#c0c0c0"}, {"offset": 0.9638, "color": "#111"}, {"offset": 0.9806, "color": "#111"}, {"offset": 0.9806, "color": "#c0c0c0"},
              {"offset": 1, "color": "#c0c0c0"}
            ]}},
          "encoding": {"y": {"field": "mean", "type": "quantitative", "title": "Number of ambulations scores"}}
        },
        {
          "mark": {"type": "rule", "strokeWidth": 2.6, "color": "black"},
          "encoding": {"y": {"field": "mean", "type": "quantitative"}, "y2": {"field": "upper"}}
        },
        {
          "mark": {"type": "tick", "orient": "horizontal", "size": 24, "thickness": 2.6, "color": "black"},
          "encoding": {"y": {"field": "upper", "type": "quantitative"}}
        },
        {
          "transform": [{"filter": "datum.sig == '###'"}],
          "mark": {"type": "text", "fontSize": 16, "fontWeight": "bold", "baseline": "alphabetic", "dy": -6, "font": "Liberation Sans", "color": "black"},
          "encoding": {"y": {"field": "upper", "type": "quantitative"}, "text": {"field": "sig"}}
        },
        {
          "transform": [{"filter": "datum.sig == '*' || datum.sig == '**'"}],
          "mark": {"type": "text", "fontSize": 24, "fontWeight": "bold", "baseline": "alphabetic", "dy": 6, "font": "Liberation Sans", "color": "black"},
          "encoding": {"y": {"field": "upper", "type": "quantitative"}, "text": {"field": "sig"}}
        },
        {
          "data": {"name": "labA"},
          "mark": {"type": "text", "fontSize": 29, "align": "left", "baseline": "alphabetic", "dx": -26, "dy": 18, "font": "Liberation Sans", "color": "black"},
          "encoding": {"x": {"datum": "NaCl Sham"}, "y": {"datum": 250}, "text": {"field": "panel"}}
        }
      ]
    },
    {
      "width": 670,
      "height": 297,
      "data": {"name": "b"},
      "encoding": {
        "x": {
          "field": "group", "type": "nominal", "sort": null, "title": null,
          "scale": {"paddingInner": 0.313, "paddingOuter": 0.17}
        }
      },
      "layer": [
        {
          "mark": {"type": "bar", "stroke": "black", "strokeWidth": 2.6},
          "encoding": {
            "y": {
              "field": "mean", "type": "quantitative",
              "title": "Number of trials",
              "scale": {"domain": [0, 20], "nice": false},
              "axis": {"values": [0, 5, 10, 15, 20], "titlePadding": 9}
            },
            "fill": {"field": "group", "type": "nominal", "sort": null, "legend": null,
              "scale": {"range": ["#b2b2b2", "#6c6c6c", "#606060", "#909090", "#868686", "#7e7e7e", "#8c8c8c", "#8a8a8a", "#a0a0a0", "#a0a0a0"]}}
          }
        },
        {
          "transform": [{"filter": "datum.group == 'NaCl Sham'"}],
          "mark": {"type": "bar", "stroke": "black", "strokeWidth": 2.6,
            "fill": {"gradient": "linear", "x1": 0, "y1": 0, "x2": 0, "y2": 1, "stops": [
              {"offset": 0, "color": "#c0c0c0"},
              {"offset": 0.0700, "color": "#c0c0c0"}, {"offset": 0.0700, "color": "#000"}, {"offset": 0.0916, "color": "#000"}, {"offset": 0.0916, "color": "#c0c0c0"},
              {"offset": 0.2182, "color": "#c0c0c0"}, {"offset": 0.2182, "color": "#000"}, {"offset": 0.2398, "color": "#000"}, {"offset": 0.2398, "color": "#c0c0c0"},
              {"offset": 0.3663, "color": "#c0c0c0"}, {"offset": 0.3663, "color": "#000"}, {"offset": 0.3879, "color": "#000"}, {"offset": 0.3879, "color": "#c0c0c0"},
              {"offset": 0.5145, "color": "#c0c0c0"}, {"offset": 0.5145, "color": "#000"}, {"offset": 0.5361, "color": "#000"}, {"offset": 0.5361, "color": "#c0c0c0"},
              {"offset": 0.6626, "color": "#c0c0c0"}, {"offset": 0.6626, "color": "#000"}, {"offset": 0.6842, "color": "#000"}, {"offset": 0.6842, "color": "#c0c0c0"},
              {"offset": 0.8107, "color": "#c0c0c0"}, {"offset": 0.8107, "color": "#000"}, {"offset": 0.8323, "color": "#000"}, {"offset": 0.8323, "color": "#c0c0c0"},
              {"offset": 0.9589, "color": "#c0c0c0"}, {"offset": 0.9589, "color": "#000"}, {"offset": 0.9805, "color": "#000"}, {"offset": 0.9805, "color": "#c0c0c0"},
              {"offset": 1, "color": "#c0c0c0"}
            ]}},
          "encoding": {"y": {"field": "mean", "type": "quantitative", "title": "Number of trials"}}
        },
        {
          "transform": [{"filter": "datum.group == 'NaCl Sham'"}],
          "mark": {"type": "bar", "stroke": "black", "strokeWidth": 2.6,
            "fill": {"gradient": "linear", "x1": 0, "y1": 0, "x2": 1, "y2": 0, "stops": [
              {"offset": 0, "color": "#c0c0c0"},
              {"offset": 0.0566, "color": "#c0c0c0"}, {"offset": 0.0566, "color": "rgba(192,192,192,0)"}, {"offset": 0.0914, "color": "rgba(192,192,192,0)"}, {"offset": 0.0914, "color": "#c0c0c0"},
              {"offset": 0.2226, "color": "#c0c0c0"}, {"offset": 0.2226, "color": "rgba(192,192,192,0)"}, {"offset": 0.2574, "color": "rgba(192,192,192,0)"}, {"offset": 0.2574, "color": "#c0c0c0"},
              {"offset": 0.3876, "color": "#c0c0c0"}, {"offset": 0.3876, "color": "rgba(192,192,192,0)"}, {"offset": 0.4224, "color": "rgba(192,192,192,0)"}, {"offset": 0.4224, "color": "#c0c0c0"},
              {"offset": 0.5536, "color": "#c0c0c0"}, {"offset": 0.5536, "color": "rgba(192,192,192,0)"}, {"offset": 0.5884, "color": "rgba(192,192,192,0)"}, {"offset": 0.5884, "color": "#c0c0c0"},
              {"offset": 0.7186, "color": "#c0c0c0"}, {"offset": 0.7186, "color": "rgba(192,192,192,0)"}, {"offset": 0.7534, "color": "rgba(192,192,192,0)"}, {"offset": 0.7534, "color": "#c0c0c0"},
              {"offset": 0.8846, "color": "#c0c0c0"}, {"offset": 0.8846, "color": "rgba(192,192,192,0)"}, {"offset": 0.9194, "color": "rgba(192,192,192,0)"}, {"offset": 0.9194, "color": "#c0c0c0"},
              {"offset": 1, "color": "#c0c0c0"}
            ]}},
          "encoding": {"y": {"field": "mean", "type": "quantitative", "title": "Number of trials"}}
        },
        {
          "transform": [{"filter": "datum.group == 'AMI Sham'"}],
          "mark": {"type": "bar", "strokeWidth": 0,
            "fill": {"gradient": "linear", "x1": 0, "y1": 0, "x2": 0, "y2": 1, "stops": [
              {"offset": 0, "color": "#000"},
              {"offset": 0.1113, "color": "#000"}, {"offset": 0.1113, "color": "#c0c0c0"},
              {"offset": 0.2226, "color": "#c0c0c0"}, {"offset": 0.2226, "color": "#000"},
              {"offset": 0.3338, "color": "#000"}, {"offset": 0.3338, "color": "#c0c0c0"},
              {"offset": 0.4451, "color": "#c0c0c0"}, {"offset": 0.4451, "color": "#000"},
              {"offset": 0.5564, "color": "#000"}, {"offset": 0.5564, "color": "#c0c0c0"},
              {"offset": 0.6677, "color": "#c0c0c0"}, {"offset": 0.6677, "color": "#000"},
              {"offset": 0.7790, "color": "#000"}, {"offset": 0.7790, "color": "#c0c0c0"},
              {"offset": 0.8902, "color": "#c0c0c0"}, {"offset": 0.8902, "color": "#000"},
              {"offset": 1, "color": "#000"}
            ]}},
          "encoding": {"y": {"field": "mean", "type": "quantitative", "title": "Number of trials"}}
        },
        {
          "transform": [{"filter": "datum.group == 'AMI Sham'"}],
          "mark": {"type": "bar", "strokeWidth": 0, "blend": "difference",
            "fill": {"gradient": "linear", "x1": 0, "y1": 0, "x2": 1, "y2": 0, "stops": [
              {"offset": 0, "color": "#000"},
              {"offset": 0.1667, "color": "#000"}, {"offset": 0.1667, "color": "#c0c0c0"},
              {"offset": 0.3333, "color": "#c0c0c0"}, {"offset": 0.3333, "color": "#000"},
              {"offset": 0.5, "color": "#000"}, {"offset": 0.5, "color": "#c0c0c0"},
              {"offset": 0.6667, "color": "#c0c0c0"}, {"offset": 0.6667, "color": "#000"},
              {"offset": 0.8333, "color": "#000"}, {"offset": 0.8333, "color": "#c0c0c0"},
              {"offset": 1, "color": "#c0c0c0"}
            ]}},
          "encoding": {"y": {"field": "mean", "type": "quantitative", "title": "Number of trials"}}
        },
        {
          "transform": [{"filter": "datum.group == 'AMI Sham'"}],
          "mark": {"type": "bar", "stroke": "black", "strokeWidth": 2.6, "fillOpacity": 0},
          "encoding": {"y": {"field": "mean", "type": "quantitative", "title": "Number of trials"}}
        },
        {
          "transform": [{"filter": "datum.group == 'AMI OB'"}],
          "mark": {"type": "bar", "stroke": "black", "strokeWidth": 2.6,
            "fill": {"gradient": "linear", "x1": 0, "y1": 0, "x2": 0, "y2": 1, "stops": [
              {"offset": 0, "color": "#c0c0c0"},
              {"offset": 0.0174, "color": "#c0c0c0"}, {"offset": 0.0174, "color": "#111"}, {"offset": 0.0290, "color": "#111"}, {"offset": 0.0290, "color": "#c0c0c0"},
              {"offset": 0.0670, "color": "#c0c0c0"}, {"offset": 0.0670, "color": "#111"}, {"offset": 0.0786, "color": "#111"}, {"offset": 0.0786, "color": "#c0c0c0"},
              {"offset": 0.1165, "color": "#c0c0c0"}, {"offset": 0.1165, "color": "#111"}, {"offset": 0.1281, "color": "#111"}, {"offset": 0.1281, "color": "#c0c0c0"},
              {"offset": 0.1660, "color": "#c0c0c0"}, {"offset": 0.1660, "color": "#111"}, {"offset": 0.1776, "color": "#111"}, {"offset": 0.1776, "color": "#c0c0c0"},
              {"offset": 0.2156, "color": "#c0c0c0"}, {"offset": 0.2156, "color": "#111"}, {"offset": 0.2272, "color": "#111"}, {"offset": 0.2272, "color": "#c0c0c0"},
              {"offset": 0.2651, "color": "#c0c0c0"}, {"offset": 0.2651, "color": "#111"}, {"offset": 0.2767, "color": "#111"}, {"offset": 0.2767, "color": "#c0c0c0"},
              {"offset": 0.3146, "color": "#c0c0c0"}, {"offset": 0.3146, "color": "#111"}, {"offset": 0.3262, "color": "#111"}, {"offset": 0.3262, "color": "#c0c0c0"},
              {"offset": 0.3642, "color": "#c0c0c0"}, {"offset": 0.3642, "color": "#111"}, {"offset": 0.3758, "color": "#111"}, {"offset": 0.3758, "color": "#c0c0c0"},
              {"offset": 0.4137, "color": "#c0c0c0"}, {"offset": 0.4137, "color": "#111"}, {"offset": 0.4253, "color": "#111"}, {"offset": 0.4253, "color": "#c0c0c0"},
              {"offset": 0.4633, "color": "#c0c0c0"}, {"offset": 0.4633, "color": "#111"}, {"offset": 0.4749, "color": "#111"}, {"offset": 0.4749, "color": "#c0c0c0"},
              {"offset": 0.5128, "color": "#c0c0c0"}, {"offset": 0.5128, "color": "#111"}, {"offset": 0.5244, "color": "#111"}, {"offset": 0.5244, "color": "#c0c0c0"},
              {"offset": 0.5623, "color": "#c0c0c0"}, {"offset": 0.5623, "color": "#111"}, {"offset": 0.5739, "color": "#111"}, {"offset": 0.5739, "color": "#c0c0c0"},
              {"offset": 0.6119, "color": "#c0c0c0"}, {"offset": 0.6119, "color": "#111"}, {"offset": 0.6235, "color": "#111"}, {"offset": 0.6235, "color": "#c0c0c0"},
              {"offset": 0.6614, "color": "#c0c0c0"}, {"offset": 0.6614, "color": "#111"}, {"offset": 0.6730, "color": "#111"}, {"offset": 0.6730, "color": "#c0c0c0"},
              {"offset": 0.7109, "color": "#c0c0c0"}, {"offset": 0.7109, "color": "#111"}, {"offset": 0.7225, "color": "#111"}, {"offset": 0.7225, "color": "#c0c0c0"},
              {"offset": 0.7605, "color": "#c0c0c0"}, {"offset": 0.7605, "color": "#111"}, {"offset": 0.7721, "color": "#111"}, {"offset": 0.7721, "color": "#c0c0c0"},
              {"offset": 0.8100, "color": "#c0c0c0"}, {"offset": 0.8100, "color": "#111"}, {"offset": 0.8216, "color": "#111"}, {"offset": 0.8216, "color": "#c0c0c0"},
              {"offset": 0.8595, "color": "#c0c0c0"}, {"offset": 0.8595, "color": "#111"}, {"offset": 0.8711, "color": "#111"}, {"offset": 0.8711, "color": "#c0c0c0"},
              {"offset": 0.9091, "color": "#c0c0c0"}, {"offset": 0.9091, "color": "#111"}, {"offset": 0.9207, "color": "#111"}, {"offset": 0.9207, "color": "#c0c0c0"},
              {"offset": 0.9586, "color": "#c0c0c0"}, {"offset": 0.9586, "color": "#111"}, {"offset": 0.9702, "color": "#111"}, {"offset": 0.9702, "color": "#c0c0c0"},
              {"offset": 1, "color": "#c0c0c0"}
            ]}},
          "encoding": {"y": {"field": "mean", "type": "quantitative", "title": "Number of trials"}}
        },
        {
          "transform": [{"filter": "datum.group == 'Mg10 Sham'"}],
          "mark": {"type": "bar", "stroke": "black", "strokeWidth": 2.6,
            "fill": {"gradient": "linear", "x1": 0, "y1": 0, "x2": 0.5688, "y2": 1.2037, "stops": [
              {"offset": 0, "color": "#c0c0c0"},
              {"offset": 0.0163, "color": "#c0c0c0"}, {"offset": 0.0163, "color": "#111"}, {"offset": 0.0397, "color": "#111"}, {"offset": 0.0397, "color": "#c0c0c0"},
              {"offset": 0.0788, "color": "#c0c0c0"}, {"offset": 0.0788, "color": "#111"}, {"offset": 0.1022, "color": "#111"}, {"offset": 0.1022, "color": "#c0c0c0"},
              {"offset": 0.1413, "color": "#c0c0c0"}, {"offset": 0.1413, "color": "#111"}, {"offset": 0.1647, "color": "#111"}, {"offset": 0.1647, "color": "#c0c0c0"},
              {"offset": 0.2038, "color": "#c0c0c0"}, {"offset": 0.2038, "color": "#111"}, {"offset": 0.2272, "color": "#111"}, {"offset": 0.2272, "color": "#c0c0c0"},
              {"offset": 0.2663, "color": "#c0c0c0"}, {"offset": 0.2663, "color": "#111"}, {"offset": 0.2897, "color": "#111"}, {"offset": 0.2897, "color": "#c0c0c0"},
              {"offset": 0.3288, "color": "#c0c0c0"}, {"offset": 0.3288, "color": "#111"}, {"offset": 0.3522, "color": "#111"}, {"offset": 0.3522, "color": "#c0c0c0"},
              {"offset": 0.3913, "color": "#c0c0c0"}, {"offset": 0.3913, "color": "#111"}, {"offset": 0.4147, "color": "#111"}, {"offset": 0.4147, "color": "#c0c0c0"},
              {"offset": 0.4538, "color": "#c0c0c0"}, {"offset": 0.4538, "color": "#111"}, {"offset": 0.4772, "color": "#111"}, {"offset": 0.4772, "color": "#c0c0c0"},
              {"offset": 0.5163, "color": "#c0c0c0"}, {"offset": 0.5163, "color": "#111"}, {"offset": 0.5397, "color": "#111"}, {"offset": 0.5397, "color": "#c0c0c0"},
              {"offset": 0.5788, "color": "#c0c0c0"}, {"offset": 0.5788, "color": "#111"}, {"offset": 0.6022, "color": "#111"}, {"offset": 0.6022, "color": "#c0c0c0"},
              {"offset": 0.6413, "color": "#c0c0c0"}, {"offset": 0.6413, "color": "#111"}, {"offset": 0.6647, "color": "#111"}, {"offset": 0.6647, "color": "#c0c0c0"},
              {"offset": 0.7038, "color": "#c0c0c0"}, {"offset": 0.7038, "color": "#111"}, {"offset": 0.7272, "color": "#111"}, {"offset": 0.7272, "color": "#c0c0c0"},
              {"offset": 0.7663, "color": "#c0c0c0"}, {"offset": 0.7663, "color": "#111"}, {"offset": 0.7897, "color": "#111"}, {"offset": 0.7897, "color": "#c0c0c0"},
              {"offset": 0.8288, "color": "#c0c0c0"}, {"offset": 0.8288, "color": "#111"}, {"offset": 0.8522, "color": "#111"}, {"offset": 0.8522, "color": "#c0c0c0"},
              {"offset": 0.8913, "color": "#c0c0c0"}, {"offset": 0.8913, "color": "#111"}, {"offset": 0.9147, "color": "#111"}, {"offset": 0.9147, "color": "#c0c0c0"},
              {"offset": 0.9538, "color": "#c0c0c0"}, {"offset": 0.9538, "color": "#111"}, {"offset": 0.9772, "color": "#111"}, {"offset": 0.9772, "color": "#c0c0c0"},
              {"offset": 1, "color": "#c0c0c0"}
            ]}},
          "encoding": {"y": {"field": "mean", "type": "quantitative", "title": "Number of trials"}}
        },
        {
          "transform": [{"filter": "datum.group == 'Mg10 OB'"}],
          "mark": {"type": "bar", "stroke": "black", "strokeWidth": 2.6,
            "fill": {"gradient": "linear", "x1": 0, "y1": 1, "x2": 0.2266, "y2": -0.1521, "stops": [
              {"offset": 0, "color": "#c0c0c0"},
              {"offset": 0.0084, "color": "#c0c0c0"}, {"offset": 0.0084, "color": "#111"}, {"offset": 0.0204, "color": "#111"}, {"offset": 0.0204, "color": "#c0c0c0"},
              {"offset": 0.0404, "color": "#c0c0c0"}, {"offset": 0.0404, "color": "#111"}, {"offset": 0.0524, "color": "#111"}, {"offset": 0.0524, "color": "#c0c0c0"},
              {"offset": 0.0725, "color": "#c0c0c0"}, {"offset": 0.0725, "color": "#111"}, {"offset": 0.0845, "color": "#111"}, {"offset": 0.0845, "color": "#c0c0c0"},
              {"offset": 0.1045, "color": "#c0c0c0"}, {"offset": 0.1045, "color": "#111"}, {"offset": 0.1165, "color": "#111"}, {"offset": 0.1165, "color": "#c0c0c0"},
              {"offset": 0.1366, "color": "#c0c0c0"}, {"offset": 0.1366, "color": "#111"}, {"offset": 0.1486, "color": "#111"}, {"offset": 0.1486, "color": "#c0c0c0"},
              {"offset": 0.1686, "color": "#c0c0c0"}, {"offset": 0.1686, "color": "#111"}, {"offset": 0.1806, "color": "#111"}, {"offset": 0.1806, "color": "#c0c0c0"},
              {"offset": 0.2007, "color": "#c0c0c0"}, {"offset": 0.2007, "color": "#111"}, {"offset": 0.2127, "color": "#111"}, {"offset": 0.2127, "color": "#c0c0c0"},
              {"offset": 0.2328, "color": "#c0c0c0"}, {"offset": 0.2328, "color": "#111"}, {"offset": 0.2448, "color": "#111"}, {"offset": 0.2448, "color": "#c0c0c0"},
              {"offset": 0.2648, "color": "#c0c0c0"}, {"offset": 0.2648, "color": "#111"}, {"offset": 0.2768, "color": "#111"}, {"offset": 0.2768, "color": "#c0c0c0"},
              {"offset": 0.2969, "color": "#c0c0c0"}, {"offset": 0.2969, "color": "#111"}, {"offset": 0.3089, "color": "#111"}, {"offset": 0.3089, "color": "#c0c0c0"},
              {"offset": 0.3289, "color": "#c0c0c0"}, {"offset": 0.3289, "color": "#111"}, {"offset": 0.3409, "color": "#111"}, {"offset": 0.3409, "color": "#c0c0c0"},
              {"offset": 0.3610, "color": "#c0c0c0"}, {"offset": 0.3610, "color": "#111"}, {"offset": 0.3730, "color": "#111"}, {"offset": 0.3730, "color": "#c0c0c0"},
              {"offset": 0.3930, "color": "#c0c0c0"}, {"offset": 0.3930, "color": "#111"}, {"offset": 0.4050, "color": "#111"}, {"offset": 0.4050, "color": "#c0c0c0"},
              {"offset": 0.4251, "color": "#c0c0c0"}, {"offset": 0.4251, "color": "#111"}, {"offset": 0.4371, "color": "#111"}, {"offset": 0.4371, "color": "#c0c0c0"},
              {"offset": 0.4572, "color": "#c0c0c0"}, {"offset": 0.4572, "color": "#111"}, {"offset": 0.4692, "color": "#111"}, {"offset": 0.4692, "color": "#c0c0c0"},
              {"offset": 0.4892, "color": "#c0c0c0"}, {"offset": 0.4892, "color": "#111"}, {"offset": 0.5012, "color": "#111"}, {"offset": 0.5012, "color": "#c0c0c0"},
              {"offset": 0.5213, "color": "#c0c0c0"}, {"offset": 0.5213, "color": "#111"}, {"offset": 0.5333, "color": "#111"}, {"offset": 0.5333, "color": "#c0c0c0"},
              {"offset": 0.5533, "color": "#c0c0c0"}, {"offset": 0.5533, "color": "#111"}, {"offset": 0.5653, "color": "#111"}, {"offset": 0.5653, "color": "#c0c0c0"},
              {"offset": 0.5854, "color": "#c0c0c0"}, {"offset": 0.5854, "color": "#111"}, {"offset": 0.5974, "color": "#111"}, {"offset": 0.5974, "color": "#c0c0c0"},
              {"offset": 0.6174, "color": "#c0c0c0"}, {"offset": 0.6174, "color": "#111"}, {"offset": 0.6294, "color": "#111"}, {"offset": 0.6294, "color": "#c0c0c0"},
              {"offset": 0.6495, "color": "#c0c0c0"}, {"offset": 0.6495, "color": "#111"}, {"offset": 0.6615, "color": "#111"}, {"offset": 0.6615, "color": "#c0c0c0"},
              {"offset": 0.6816, "color": "#c0c0c0"}, {"offset": 0.6816, "color": "#111"}, {"offset": 0.6936, "color": "#111"}, {"offset": 0.6936, "color": "#c0c0c0"},
              {"offset": 0.7136, "color": "#c0c0c0"}, {"offset": 0.7136, "color": "#111"}, {"offset": 0.7256, "color": "#111"}, {"offset": 0.7256, "color": "#c0c0c0"},
              {"offset": 0.7457, "color": "#c0c0c0"}, {"offset": 0.7457, "color": "#111"}, {"offset": 0.7577, "color": "#111"}, {"offset": 0.7577, "color": "#c0c0c0"},
              {"offset": 0.7777, "color": "#c0c0c0"}, {"offset": 0.7777, "color": "#111"}, {"offset": 0.7897, "color": "#111"}, {"offset": 0.7897, "color": "#c0c0c0"},
              {"offset": 0.8098, "color": "#c0c0c0"}, {"offset": 0.8098, "color": "#111"}, {"offset": 0.8218, "color": "#111"}, {"offset": 0.8218, "color": "#c0c0c0"},
              {"offset": 0.8418, "color": "#c0c0c0"}, {"offset": 0.8418, "color": "#111"}, {"offset": 0.8538, "color": "#111"}, {"offset": 0.8538, "color": "#c0c0c0"},
              {"offset": 0.8739, "color": "#c0c0c0"}, {"offset": 0.8739, "color": "#111"}, {"offset": 0.8859, "color": "#111"}, {"offset": 0.8859, "color": "#c0c0c0"},
              {"offset": 0.9059, "color": "#c0c0c0"}, {"offset": 0.9059, "color": "#111"}, {"offset": 0.9179, "color": "#111"}, {"offset": 0.9179, "color": "#c0c0c0"},
              {"offset": 0.9380, "color": "#c0c0c0"}, {"offset": 0.9380, "color": "#111"}, {"offset": 0.9500, "color": "#111"}, {"offset": 0.9500, "color": "#c0c0c0"},
              {"offset": 0.9701, "color": "#c0c0c0"}, {"offset": 0.9701, "color": "#111"}, {"offset": 0.9821, "color": "#111"}, {"offset": 0.9821, "color": "#c0c0c0"},
              {"offset": 1, "color": "#c0c0c0"}
            ]}},
          "encoding": {"y": {"field": "mean", "type": "quantitative", "title": "Number of trials"}}
        },
        {
          "transform": [{"filter": "datum.group == 'Mg15 Sham'"}],
          "mark": {"type": "bar", "stroke": "black", "strokeWidth": 2.6,
            "fill": {"gradient": "linear", "x1": 0, "y1": 0, "x2": 0, "y2": 1, "stops": [
              {"offset": 0, "color": "#c0c0c0"},
              {"offset": 0.0919, "color": "#c0c0c0"}, {"offset": 0.0919, "color": "#111"}, {"offset": 0.1129, "color": "#111"}, {"offset": 0.1129, "color": "#c0c0c0"},
              {"offset": 0.1943, "color": "#c0c0c0"}, {"offset": 0.1943, "color": "#111"}, {"offset": 0.2153, "color": "#111"}, {"offset": 0.2153, "color": "#c0c0c0"},
              {"offset": 0.2966, "color": "#c0c0c0"}, {"offset": 0.2966, "color": "#111"}, {"offset": 0.3176, "color": "#111"}, {"offset": 0.3176, "color": "#c0c0c0"},
              {"offset": 0.3990, "color": "#c0c0c0"}, {"offset": 0.3990, "color": "#111"}, {"offset": 0.4200, "color": "#111"}, {"offset": 0.4200, "color": "#c0c0c0"},
              {"offset": 0.5014, "color": "#c0c0c0"}, {"offset": 0.5014, "color": "#111"}, {"offset": 0.5224, "color": "#111"}, {"offset": 0.5224, "color": "#c0c0c0"},
              {"offset": 0.6038, "color": "#c0c0c0"}, {"offset": 0.6038, "color": "#111"}, {"offset": 0.6248, "color": "#111"}, {"offset": 0.6248, "color": "#c0c0c0"},
              {"offset": 0.7062, "color": "#c0c0c0"}, {"offset": 0.7062, "color": "#111"}, {"offset": 0.7272, "color": "#111"}, {"offset": 0.7272, "color": "#c0c0c0"},
              {"offset": 0.8085, "color": "#c0c0c0"}, {"offset": 0.8085, "color": "#111"}, {"offset": 0.8295, "color": "#111"}, {"offset": 0.8295, "color": "#c0c0c0"},
              {"offset": 0.9109, "color": "#c0c0c0"}, {"offset": 0.9109, "color": "#111"}, {"offset": 0.9319, "color": "#111"}, {"offset": 0.9319, "color": "#c0c0c0"},
              {"offset": 1, "color": "#c0c0c0"}
            ]}},
          "encoding": {"y": {"field": "mean", "type": "quantitative", "title": "Number of trials"}}
        },
        {
          "transform": [{"filter": "datum.group == 'Mg15 Sham'"}],
          "mark": {"type": "bar", "stroke": "black", "strokeWidth": 2.6,
            "fill": {"gradient": "linear", "x1": 0, "y1": 0, "x2": 1, "y2": 0, "stops": [
              {"offset": 0, "color": "rgba(0,0,0,0)"},
              {"offset": 0.1504, "color": "rgba(0,0,0,0)"}, {"offset": 0.1504, "color": "#111"}, {"offset": 0.1830, "color": "#111"}, {"offset": 0.1830, "color": "rgba(0,0,0,0)"},
              {"offset": 0.3170, "color": "rgba(0,0,0,0)"}, {"offset": 0.3170, "color": "#111"}, {"offset": 0.3496, "color": "#111"}, {"offset": 0.3496, "color": "rgba(0,0,0,0)"},
              {"offset": 0.4837, "color": "rgba(0,0,0,0)"}, {"offset": 0.4837, "color": "#111"}, {"offset": 0.5163, "color": "#111"}, {"offset": 0.5163, "color": "rgba(0,0,0,0)"},
              {"offset": 0.6504, "color": "rgba(0,0,0,0)"}, {"offset": 0.6504, "color": "#111"}, {"offset": 0.6830, "color": "#111"}, {"offset": 0.6830, "color": "rgba(0,0,0,0)"},
              {"offset": 0.8170, "color": "rgba(0,0,0,0)"}, {"offset": 0.8170, "color": "#111"}, {"offset": 0.8496, "color": "#111"}, {"offset": 0.8496, "color": "rgba(0,0,0,0)"},
              {"offset": 1, "color": "rgba(0,0,0,0)"}
            ]}},
          "encoding": {"y": {"field": "mean", "type": "quantitative", "title": "Number of trials"}}
        },
        {
          "transform": [{"filter": "datum.group == 'Mg20 Sham'"}],
          "mark": {"type": "bar", "stroke": "black", "strokeWidth": 2.6,
            "fill": {"gradient": "linear", "x1": 0, "y1": 1, "x2": 0.627, "y2": -0.1956, "stops": [
              {"offset": 0, "color": "#c0c0c0"},
              {"offset": 0.063, "color": "#c0c0c0"}, {"offset": 0.063, "color": "#111"}, {"offset": 0.097, "color": "#111"}, {"offset": 0.097, "color": "#c0c0c0"},
              {"offset": 0.293, "color": "#c0c0c0"}, {"offset": 0.293, "color": "#111"}, {"offset": 0.327, "color": "#111"}, {"offset": 0.327, "color": "#c0c0c0"},
              {"offset": 0.523, "color": "#c0c0c0"}, {"offset": 0.523, "color": "#111"}, {"offset": 0.557, "color": "#111"}, {"offset": 0.557, "color": "#c0c0c0"},
              {"offset": 0.753, "color": "#c0c0c0"}, {"offset": 0.753, "color": "#111"}, {"offset": 0.787, "color": "#111"}, {"offset": 0.787, "color": "#c0c0c0"},
              {"offset": 1, "color": "#c0c0c0"}
            ]}},
          "encoding": {"y": {"field": "mean", "type": "quantitative", "title": "Number of trials"}}
        },
        {
          "transform": [{"filter": "datum.group == 'Mg20 OB'"}],
          "mark": {"type": "bar", "stroke": "black", "strokeWidth": 2.6,
            "fill": {"gradient": "linear", "x1": 0, "y1": 0, "x2": 0.289, "y2": 1.1749, "stops": [
              {"offset": 0, "color": "#c0c0c0"},
              {"offset": 0.0591, "color": "#c0c0c0"}, {"offset": 0.0591, "color": "#111"}, {"offset": 0.0786, "color": "#111"}, {"offset": 0.0786, "color": "#c0c0c0"},
              {"offset": 0.1911, "color": "#c0c0c0"}, {"offset": 0.1911, "color": "#111"}, {"offset": 0.2106, "color": "#111"}, {"offset": 0.2106, "color": "#c0c0c0"},
              {"offset": 0.3231, "color": "#c0c0c0"}, {"offset": 0.3231, "color": "#111"}, {"offset": 0.3426, "color": "#111"}, {"offset": 0.3426, "color": "#c0c0c0"},
              {"offset": 0.4550, "color": "#c0c0c0"}, {"offset": 0.4550, "color": "#111"}, {"offset": 0.4745, "color": "#111"}, {"offset": 0.4745, "color": "#c0c0c0"},
              {"offset": 0.5870, "color": "#c0c0c0"}, {"offset": 0.5870, "color": "#111"}, {"offset": 0.6065, "color": "#111"}, {"offset": 0.6065, "color": "#c0c0c0"},
              {"offset": 0.7189, "color": "#c0c0c0"}, {"offset": 0.7189, "color": "#111"}, {"offset": 0.7384, "color": "#111"}, {"offset": 0.7384, "color": "#c0c0c0"},
              {"offset": 0.8509, "color": "#c0c0c0"}, {"offset": 0.8509, "color": "#111"}, {"offset": 0.8704, "color": "#111"}, {"offset": 0.8704, "color": "#c0c0c0"},
              {"offset": 0.9828, "color": "#c0c0c0"}, {"offset": 0.9828, "color": "#111"}, {"offset": 1, "color": "#111"}
            ]}},
          "encoding": {"y": {"field": "mean", "type": "quantitative", "title": "Number of trials"}}
        },
        {
          "mark": {"type": "rule", "strokeWidth": 2.6, "color": "black"},
          "encoding": {"y": {"field": "mean", "type": "quantitative"}, "y2": {"field": "upper"}}
        },
        {
          "mark": {"type": "tick", "orient": "horizontal", "size": 24, "thickness": 2.6, "color": "black"},
          "encoding": {"y": {"field": "upper", "type": "quantitative"}}
        },
        {
          "transform": [{"filter": "datum.sig == '###'"}],
          "mark": {"type": "text", "fontSize": 16, "fontWeight": "bold", "baseline": "alphabetic", "dy": -6, "font": "Liberation Sans", "color": "black"},
          "encoding": {"y": {"field": "upper", "type": "quantitative"}, "text": {"field": "sig"}}
        },
        {
          "transform": [{"filter": "datum.sig == '*' || datum.sig == '**'"}],
          "mark": {"type": "text", "fontSize": 24, "fontWeight": "bold", "baseline": "alphabetic", "dy": 6, "font": "Liberation Sans", "color": "black"},
          "encoding": {"y": {"field": "upper", "type": "quantitative"}, "text": {"field": "sig"}}
        },
        {
          "data": {"name": "labB"},
          "mark": {"type": "text", "fontSize": 29, "align": "left", "baseline": "alphabetic", "dx": -29, "dy": 15, "font": "Liberation Sans", "color": "black"},
          "encoding": {"x": {"datum": "NaCl Sham"}, "y": {"datum": 20}, "text": {"field": "panel"}}
        }
      ]
    }
  ],
  "config": {
    "view": {"stroke": null},
    "axis": {
      "grid": false,
      "domainColor": "#222222",
      "domainWidth": 1.5,
      "tickColor": "#222222",
      "tickWidth": 1.5,
      "tickSize": 9,
      "labelFont": "Liberation Sans",
      "labelFontSize": 18,
      "labelColor": "black",
      "titleFont": "Liberation Sans",
      "titleFontSize": 17,
      "titleFontWeight": "normal",
      "titleColor": "black"
    },
    "axisY": {"labelPadding": 2, "tickSize": 10},
    "axisX": {"labelAngle": -45, "labelAlign": "right", "labelBaseline": "middle", "labelPadding": 9, "domainWidth": 2}
  }
}
